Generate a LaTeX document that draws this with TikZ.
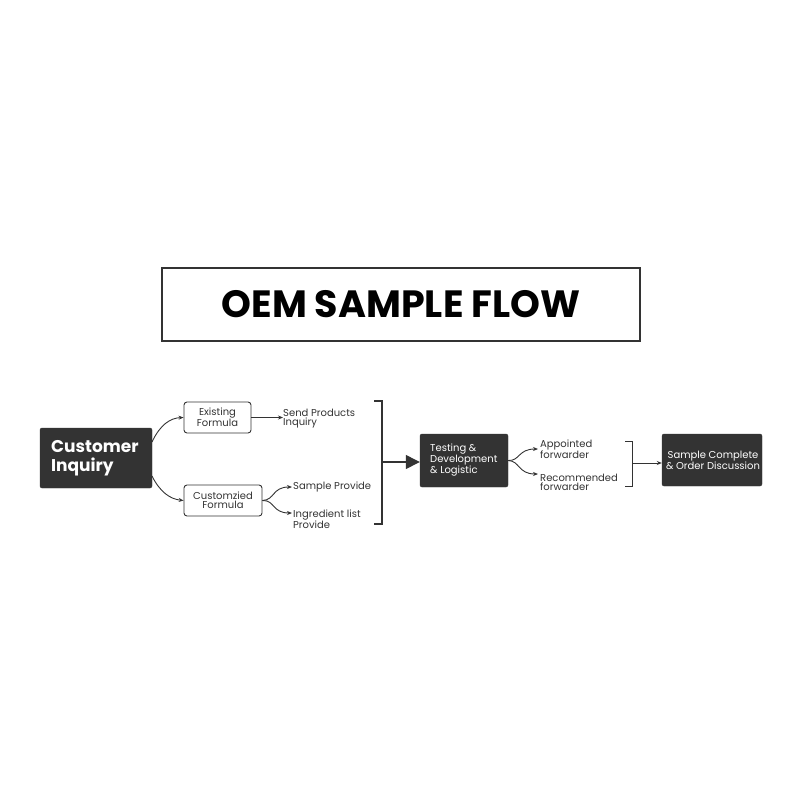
\documentclass[tikz,border=0pt]{standalone}
\usepackage{fontspec}
\setmainfont{Poppins}
\usetikzlibrary{arrows.meta}
\definecolor{dark}{HTML}{333333}
\begin{document}
\begin{tikzpicture}[x=1pt,y=-1pt,
  darkbox/.style={draw=dark,fill=dark,rounded corners=2pt,text=white,inner sep=0pt},
  whitebox/.style={draw=dark,line width=0.9pt,fill=white,rounded corners=3pt,inner sep=0pt},
  lbl/.style={font=\fontsize{10}{9}\selectfont,align=left,anchor=west,inner sep=0pt,text=dark},
  arr/.style={draw=dark,line width=0.9pt,-{Stealth[length=5pt,width=4pt]}},
  br/.style={draw=dark,line width=1.3pt}]
\useasboundingbox (0,0) rectangle (800,800);
\node[draw=dark,line width=1.2pt,minimum width=478pt,minimum height=73pt] (title) at (401,304.5)
  {\fontsize{38}{40}\selectfont\bfseries OEM SAMPLE FLOW};
\node[darkbox,minimum width=112pt,minimum height=60pt] (ci) at (96,458) {};
\node[anchor=west,text=white,align=left,font=\fontsize{17}{19}\selectfont\bfseries,inner sep=0pt] (cit) at (51,458) {Customer\\Inquiry};
\node[whitebox,minimum width=67pt,minimum height=31pt] (ef) at (217.5,417.5) {};
\node[lbl,anchor=center,align=center] (eft) at (217.5,417.5) {Existing\\Formula};
\node[whitebox,minimum width=78pt,minimum height=31pt] (cf) at (223,500.5) {};
\node[lbl,anchor=center,align=center] (cft) at (223,500.5) {Customzied\\Formula};
\node[lbl] (sp) at (283,419) {Send Products\\Inquiry};
\node[lbl] (sa) at (293,487) {Sample Provide};
\node[lbl] (il) at (293,519) {Ingredient list\\Provide};
\coordinate (s1) at (292,487);
\coordinate (s2) at (292,513);
\draw[arr] (152,442) .. controls (160,425) and (170,418) .. (ef.west);
\draw[arr] (152,476) .. controls (160,492) and (170,499) .. (cf.west);
\draw[arr] (ef.east) -- (sp.west |- ef.east);
\draw[arr] (cf.east) .. controls (275,500) and (272,487) .. (s1);
\draw[arr] (cf.east) .. controls (275,500) and (272,513) .. (s2);
\coordinate (b1t) at (374,401); \coordinate (b1b) at (374,524);
\draw[br] (b1t) -- (382,401) -- (382,524) -- (b1b);
\node[darkbox,minimum width=88pt,minimum height=53pt] (td) at (464,460.5) {};
\node[anchor=west,text=white,align=left,font=\fontsize{10}{9}\selectfont,inner sep=0pt] (tdt) at (430,460) {Testing \&\\Development\\\& Logistic};
\draw[draw=dark,line width=1.3pt,-{Triangle[length=14pt,width=14pt]}] (382,462) -- (td.west |- 0,462);
\node[lbl] (ap) at (540,449) {Appointed\\forwarder};
\node[lbl] (rf) at (540,482) {Recommended\\forwarder};
\coordinate (a1) at (538,449); \coordinate (a2) at (538,474);
\draw[arr] (td.east) .. controls (520,461) and (518,449) .. (a1);
\draw[arr] (td.east) .. controls (520,461) and (518,474) .. (a2);
\draw[br,line width=1pt] (625,441) -- (632,441) -- (632,486) -- (625,486);
\node[darkbox,minimum width=100pt,minimum height=52pt] (sc) at (712,460) {};
\node[text=white,align=center,font=\fontsize{10}{9}\selectfont,inner sep=0pt] (sct) at (713,460) {Sample Complete\\\& Order Discussion};
\draw[arr] (632,463) -- (sc.west |- 0,463);
\end{tikzpicture}
\end{document}
